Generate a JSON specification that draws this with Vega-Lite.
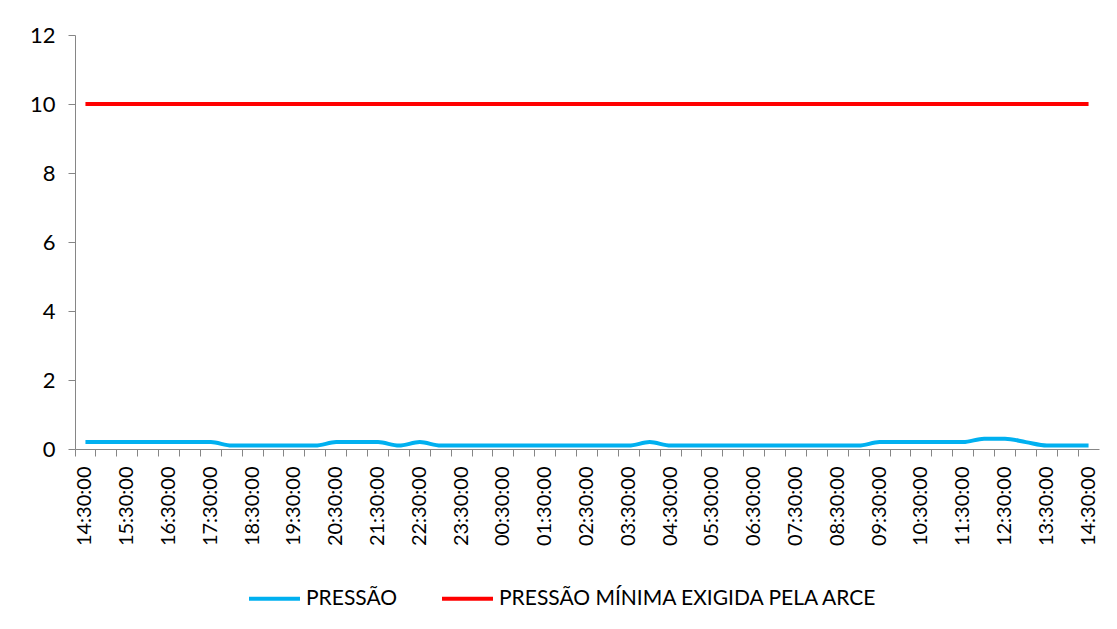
{
  "$schema": "https://vega.github.io/schema/vega-lite/v6.json",
  "width": 1024,
  "height": 414,
  "padding": {"left": 29, "top": 24, "right": 20, "bottom": 10},
  "config": {
    "view": {"stroke": null},
    "font": "Lato",
    "axis": {"grid": false, "domainColor": "#868686", "tickColor": "#868686", "labelColor": "#000000", "labelFont": "Lato", "tickSize": 7}
  },
  "data": {"values": [
    {"t": "2013-03-10 14:30", "serie": "PRESSÃO", "valor": 0.2},
    {"t": "2013-03-10 15:00", "serie": "PRESSÃO", "valor": 0.2},
    {"t": "2013-03-10 15:30", "serie": "PRESSÃO", "valor": 0.2},
    {"t": "2013-03-10 16:00", "serie": "PRESSÃO", "valor": 0.2},
    {"t": "2013-03-10 16:30", "serie": "PRESSÃO", "valor": 0.2},
    {"t": "2013-03-10 17:00", "serie": "PRESSÃO", "valor": 0.2},
    {"t": "2013-03-10 17:30", "serie": "PRESSÃO", "valor": 0.2},
    {"t": "2013-03-10 18:00", "serie": "PRESSÃO", "valor": 0.1},
    {"t": "2013-03-10 18:30", "serie": "PRESSÃO", "valor": 0.1},
    {"t": "2013-03-10 19:00", "serie": "PRESSÃO", "valor": 0.1},
    {"t": "2013-03-10 19:30", "serie": "PRESSÃO", "valor": 0.1},
    {"t": "2013-03-10 20:00", "serie": "PRESSÃO", "valor": 0.1},
    {"t": "2013-03-10 20:30", "serie": "PRESSÃO", "valor": 0.2},
    {"t": "2013-03-10 21:00", "serie": "PRESSÃO", "valor": 0.2},
    {"t": "2013-03-10 21:30", "serie": "PRESSÃO", "valor": 0.2},
    {"t": "2013-03-10 22:00", "serie": "PRESSÃO", "valor": 0.1},
    {"t": "2013-03-10 22:30", "serie": "PRESSÃO", "valor": 0.2},
    {"t": "2013-03-10 23:00", "serie": "PRESSÃO", "valor": 0.1},
    {"t": "2013-03-10 23:30", "serie": "PRESSÃO", "valor": 0.1},
    {"t": "2013-03-11 00:00", "serie": "PRESSÃO", "valor": 0.1},
    {"t": "2013-03-11 00:30", "serie": "PRESSÃO", "valor": 0.1},
    {"t": "2013-03-11 01:00", "serie": "PRESSÃO", "valor": 0.1},
    {"t": "2013-03-11 01:30", "serie": "PRESSÃO", "valor": 0.1},
    {"t": "2013-03-11 02:00", "serie": "PRESSÃO", "valor": 0.1},
    {"t": "2013-03-11 02:30", "serie": "PRESSÃO", "valor": 0.1},
    {"t": "2013-03-11 03:00", "serie": "PRESSÃO", "valor": 0.1},
    {"t": "2013-03-11 03:30", "serie": "PRESSÃO", "valor": 0.1},
    {"t": "2013-03-11 04:00", "serie": "PRESSÃO", "valor": 0.2},
    {"t": "2013-03-11 04:30", "serie": "PRESSÃO", "valor": 0.1},
    {"t": "2013-03-11 05:00", "serie": "PRESSÃO", "valor": 0.1},
    {"t": "2013-03-11 05:30", "serie": "PRESSÃO", "valor": 0.1},
    {"t": "2013-03-11 06:00", "serie": "PRESSÃO", "valor": 0.1},
    {"t": "2013-03-11 06:30", "serie": "PRESSÃO", "valor": 0.1},
    {"t": "2013-03-11 07:00", "serie": "PRESSÃO", "valor": 0.1},
    {"t": "2013-03-11 07:30", "serie": "PRESSÃO", "valor": 0.1},
    {"t": "2013-03-11 08:00", "serie": "PRESSÃO", "valor": 0.1},
    {"t": "2013-03-11 08:30", "serie": "PRESSÃO", "valor": 0.1},
    {"t": "2013-03-11 09:00", "serie": "PRESSÃO", "valor": 0.1},
    {"t": "2013-03-11 09:30", "serie": "PRESSÃO", "valor": 0.2},
    {"t": "2013-03-11 10:00", "serie": "PRESSÃO", "valor": 0.2},
    {"t": "2013-03-11 10:30", "serie": "PRESSÃO", "valor": 0.2},
    {"t": "2013-03-11 11:00", "serie": "PRESSÃO", "valor": 0.2},
    {"t": "2013-03-11 11:30", "serie": "PRESSÃO", "valor": 0.2},
    {"t": "2013-03-11 12:00", "serie": "PRESSÃO", "valor": 0.3},
    {"t": "2013-03-11 12:30", "serie": "PRESSÃO", "valor": 0.3},
    {"t": "2013-03-11 13:00", "serie": "PRESSÃO", "valor": 0.2},
    {"t": "2013-03-11 13:30", "serie": "PRESSÃO", "valor": 0.1},
    {"t": "2013-03-11 14:00", "serie": "PRESSÃO", "valor": 0.1},
    {"t": "2013-03-11 14:30", "serie": "PRESSÃO", "valor": 0.1},
    {"t": "2013-03-10 14:30", "serie": "PRESSÃO MÍNIMA EXIGIDA PELA ARCE", "valor": 10},
    {"t": "2013-03-10 15:00", "serie": "PRESSÃO MÍNIMA EXIGIDA PELA ARCE", "valor": 10},
    {"t": "2013-03-10 15:30", "serie": "PRESSÃO MÍNIMA EXIGIDA PELA ARCE", "valor": 10},
    {"t": "2013-03-10 16:00", "serie": "PRESSÃO MÍNIMA EXIGIDA PELA ARCE", "valor": 10},
    {"t": "2013-03-10 16:30", "serie": "PRESSÃO MÍNIMA EXIGIDA PELA ARCE", "valor": 10},
    {"t": "2013-03-10 17:00", "serie": "PRESSÃO MÍNIMA EXIGIDA PELA ARCE", "valor": 10},
    {"t": "2013-03-10 17:30", "serie": "PRESSÃO MÍNIMA EXIGIDA PELA ARCE", "valor": 10},
    {"t": "2013-03-10 18:00", "serie": "PRESSÃO MÍNIMA EXIGIDA PELA ARCE", "valor": 10},
    {"t": "2013-03-10 18:30", "serie": "PRESSÃO MÍNIMA EXIGIDA PELA ARCE", "valor": 10},
    {"t": "2013-03-10 19:00", "serie": "PRESSÃO MÍNIMA EXIGIDA PELA ARCE", "valor": 10},
    {"t": "2013-03-10 19:30", "serie": "PRESSÃO MÍNIMA EXIGIDA PELA ARCE", "valor": 10},
    {"t": "2013-03-10 20:00", "serie": "PRESSÃO MÍNIMA EXIGIDA PELA ARCE", "valor": 10},
    {"t": "2013-03-10 20:30", "serie": "PRESSÃO MÍNIMA EXIGIDA PELA ARCE", "valor": 10},
    {"t": "2013-03-10 21:00", "serie": "PRESSÃO MÍNIMA EXIGIDA PELA ARCE", "valor": 10},
    {"t": "2013-03-10 21:30", "serie": "PRESSÃO MÍNIMA EXIGIDA PELA ARCE", "valor": 10},
    {"t": "2013-03-10 22:00", "serie": "PRESSÃO MÍNIMA EXIGIDA PELA ARCE", "valor": 10},
    {"t": "2013-03-10 22:30", "serie": "PRESSÃO MÍNIMA EXIGIDA PELA ARCE", "valor": 10},
    {"t": "2013-03-10 23:00", "serie": "PRESSÃO MÍNIMA EXIGIDA PELA ARCE", "valor": 10},
    {"t": "2013-03-10 23:30", "serie": "PRESSÃO MÍNIMA EXIGIDA PELA ARCE", "valor": 10},
    {"t": "2013-03-11 00:00", "serie": "PRESSÃO MÍNIMA EXIGIDA PELA ARCE", "valor": 10},
    {"t": "2013-03-11 00:30", "serie": "PRESSÃO MÍNIMA EXIGIDA PELA ARCE", "valor": 10},
    {"t": "2013-03-11 01:00", "serie": "PRESSÃO MÍNIMA EXIGIDA PELA ARCE", "valor": 10},
    {"t": "2013-03-11 01:30", "serie": "PRESSÃO MÍNIMA EXIGIDA PELA ARCE", "valor": 10},
    {"t": "2013-03-11 02:00", "serie": "PRESSÃO MÍNIMA EXIGIDA PELA ARCE", "valor": 10},
    {"t": "2013-03-11 02:30", "serie": "PRESSÃO MÍNIMA EXIGIDA PELA ARCE", "valor": 10},
    {"t": "2013-03-11 03:00", "serie": "PRESSÃO MÍNIMA EXIGIDA PELA ARCE", "valor": 10},
    {"t": "2013-03-11 03:30", "serie": "PRESSÃO MÍNIMA EXIGIDA PELA ARCE", "valor": 10},
    {"t": "2013-03-11 04:00", "serie": "PRESSÃO MÍNIMA EXIGIDA PELA ARCE", "valor": 10},
    {"t": "2013-03-11 04:30", "serie": "PRESSÃO MÍNIMA EXIGIDA PELA ARCE", "valor": 10},
    {"t": "2013-03-11 05:00", "serie": "PRESSÃO MÍNIMA EXIGIDA PELA ARCE", "valor": 10},
    {"t": "2013-03-11 05:30", "serie": "PRESSÃO MÍNIMA EXIGIDA PELA ARCE", "valor": 10},
    {"t": "2013-03-11 06:00", "serie": "PRESSÃO MÍNIMA EXIGIDA PELA ARCE", "valor": 10},
    {"t": "2013-03-11 06:30", "serie": "PRESSÃO MÍNIMA EXIGIDA PELA ARCE", "valor": 10},
    {"t": "2013-03-11 07:00", "serie": "PRESSÃO MÍNIMA EXIGIDA PELA ARCE", "valor": 10},
    {"t": "2013-03-11 07:30", "serie": "PRESSÃO MÍNIMA EXIGIDA PELA ARCE", "valor": 10},
    {"t": "2013-03-11 08:00", "serie": "PRESSÃO MÍNIMA EXIGIDA PELA ARCE", "valor": 10},
    {"t": "2013-03-11 08:30", "serie": "PRESSÃO MÍNIMA EXIGIDA PELA ARCE", "valor": 10},
    {"t": "2013-03-11 09:00", "serie": "PRESSÃO MÍNIMA EXIGIDA PELA ARCE", "valor": 10},
    {"t": "2013-03-11 09:30", "serie": "PRESSÃO MÍNIMA EXIGIDA PELA ARCE", "valor": 10},
    {"t": "2013-03-11 10:00", "serie": "PRESSÃO MÍNIMA EXIGIDA PELA ARCE", "valor": 10},
    {"t": "2013-03-11 10:30", "serie": "PRESSÃO MÍNIMA EXIGIDA PELA ARCE", "valor": 10},
    {"t": "2013-03-11 11:00", "serie": "PRESSÃO MÍNIMA EXIGIDA PELA ARCE", "valor": 10},
    {"t": "2013-03-11 11:30", "serie": "PRESSÃO MÍNIMA EXIGIDA PELA ARCE", "valor": 10},
    {"t": "2013-03-11 12:00", "serie": "PRESSÃO MÍNIMA EXIGIDA PELA ARCE", "valor": 10},
    {"t": "2013-03-11 12:30", "serie": "PRESSÃO MÍNIMA EXIGIDA PELA ARCE", "valor": 10},
    {"t": "2013-03-11 13:00", "serie": "PRESSÃO MÍNIMA EXIGIDA PELA ARCE", "valor": 10},
    {"t": "2013-03-11 13:30", "serie": "PRESSÃO MÍNIMA EXIGIDA PELA ARCE", "valor": 10},
    {"t": "2013-03-11 14:00", "serie": "PRESSÃO MÍNIMA EXIGIDA PELA ARCE", "valor": 10},
    {"t": "2013-03-11 14:30", "serie": "PRESSÃO MÍNIMA EXIGIDA PELA ARCE", "valor": 10}
  ]},
  "mark": {"type": "line", "strokeWidth": 4, "interpolate": "monotone"},
  "encoding": {
    "x": {
      "field": "t", "type": "ordinal",
      "scale": {"type": "band", "paddingInner": 0, "paddingOuter": 0},
      "axis": {
        "title": null, "labelAngle": -90, "labelAlign": "right", "labelBaseline": "middle", "labelPadding": 10,
        "labelFontSize": 20, "labelOverlap": false, "bandPosition": 0,
        "labelExpr": "slice(datum.value, 14, 16) == '30' ? slice(datum.value, 11) + ':00' : ''"
      }
    },
    "y": {
      "field": "valor", "type": "quantitative",
      "scale": {"domain": [0, 12], "nice": false},
      "axis": {"title": null, "values": [0, 2, 4, 6, 8, 10, 12], "labelPadding": 13, "labelFontSize": 22}
    },
    "color": {
      "field": "serie", "type": "nominal",
      "scale": {"domain": ["PRESSÃO", "PRESSÃO MÍNIMA EXIGIDA PELA ARCE"], "range": ["#00B0F0", "#FF0000"]},
      "legend": {
        "title": null, "orient": "none", "direction": "horizontal", "legendX": 172, "legendY": 536,
        "symbolType": "stroke", "symbolStrokeWidth": 4, "symbolSize": 2600, "padding": 0,
        "labelFont": "Lato", "labelFontSize": 21, "labelColor": "#000000", "labelOffset": 4,
        "columnPadding": 36, "labelLimit": 600
      }
    }
  }
}
